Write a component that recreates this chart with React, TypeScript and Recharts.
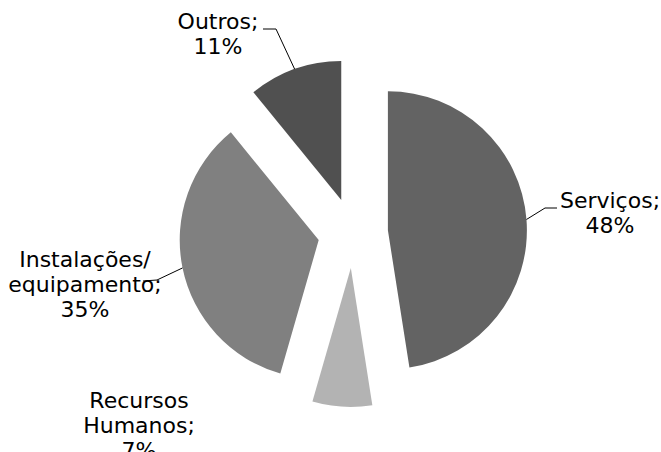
import { PieChart, Pie, Cell, Sector } from "recharts";

const categories = ["Serviços", "Recursos Humanos", "Instalações/equipamento", "Outros"];
const shares = [48, 7, 35, 11];
const colors = ["#636363", "#b3b3b3", "#808080", "#505050"];

// label block placement, relative to pie centre: [x centre, first baseline]
const labelOffsets = [
  [257, -25],
  [-214, 175],
  [-268, 34],
  [-135, -204],
];
// leader line elbow + end, relative to pie centre (null = no leader)
const leaders: (number[][] | null)[] = [
  [[192, -25], [204, -25]],
  null,
  [[-196, 47], [-210, 48]],
  [[-77, -204], [-90, -204]],
];

const data = categories.map((name, i) => ({ name, value: shares[i] }));

const RAD = Math.PI / 180;
const EXPLODE = 35;
const LINE_H = 25;

const ExplodedSector = (props: any) => {
  const { cx, cy, midAngle } = props;
  const dx = EXPLODE * Math.cos(-midAngle * RAD);
  const dy = EXPLODE * Math.sin(-midAngle * RAD);
  return <Sector {...props} cx={cx + dx} cy={cy + dy} stroke="none" />;
};

const splitName = (name: string, value: number) => {
  const words = name.replace("/", "/ ").split(" ").filter(Boolean);
  words[words.length - 1] += ";";
  return [...words, `${value}%`];
};

const renderLabel = (props: any) => {
  const { cx, cy, midAngle, outerRadius, index, name, value } = props;
  const [ox, oy] = labelOffsets[index];
  const lines = splitName(name, value);
  const lead = leaders[index];
  let path = null;
  if (lead) {
    const r = outerRadius + EXPLODE;
    const sx = cx + r * Math.cos(-midAngle * RAD);
    const sy = cy + r * Math.sin(-midAngle * RAD);
    const [[ex, ey], [tx, ty]] = lead;
    path = (
      <polyline
        points={`${sx},${sy} ${cx + ex},${cy + ey} ${cx + tx},${cy + ty}`}
        fill="none"
        stroke="#000"
        strokeWidth={1}
      />
    );
  }
  return (
    <g key={`lbl-${index}`}>
      {path}
      <text
        x={cx + ox}
        y={cy + oy}
        textAnchor="middle"
        fill="#000"
        fontSize={22}
        fontFamily="'DejaVu Sans', Verdana, sans-serif"
      >
        {lines.map((l, i) => (
          <tspan key={i} x={cx + ox} dy={i === 0 ? 0 : LINE_H}>
            {l}
          </tspan>
        ))}
      </text>
    </g>
  );
};

export default function App() {
  return (
    <div style={{ position: "absolute", left: 0, top: 0, width: 661, height: 452, background: "#fff" }}>
      <PieChart width={661} height={452} margin={{ top: 0, right: 0, bottom: 0, left: 0 }}>
        <Pie
          data={data}
          dataKey="value"
          nameKey="name"
          cx={353}
          cy={233}
          outerRadius={139}
          startAngle={90}
          endAngle={-270}
          stroke="none"
          shape={ExplodedSector}
          label={renderLabel}
          labelLine={false}
          isAnimationActive={false}
        >
          {data.map((d, i) => (
            <Cell key={d.name} fill={colors[i]} />
          ))}
        </Pie>
      </PieChart>
    </div>
  );
}
